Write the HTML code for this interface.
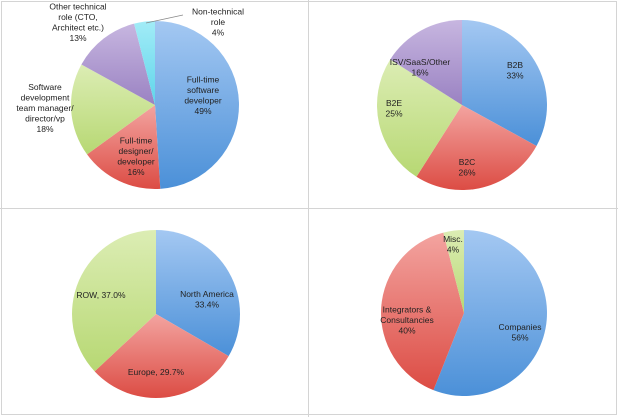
<!DOCTYPE html>
<html><head><meta charset="utf-8"><style>
html,body{margin:0;padding:0;background:#fff;}
svg{display:block;font-family:"Liberation Sans",sans-serif;}
text{font-size:8.5px;fill:#222;text-anchor:middle;}
</style></head><body>
<svg id="s" width="618" height="417">
<defs>
<linearGradient id="gb" x1="0" y1="0" x2="0" y2="1"><stop offset="0" stop-color="#a4c8f2"/><stop offset="1" stop-color="#4b90d8"/></linearGradient>
<linearGradient id="gr" x1="0" y1="0" x2="0" y2="1"><stop offset="0" stop-color="#f3a4a0"/><stop offset="1" stop-color="#dc4c44"/></linearGradient>
<linearGradient id="gg" x1="0" y1="0" x2="0" y2="1"><stop offset="0" stop-color="#dcedb4"/><stop offset="1" stop-color="#b7d873"/></linearGradient>
<linearGradient id="gp" x1="0" y1="0" x2="0" y2="1"><stop offset="0" stop-color="#c7b6e0"/><stop offset="1" stop-color="#9a82c2"/></linearGradient>
<linearGradient id="gc" x1="0" y1="0" x2="0" y2="1"><stop offset="0" stop-color="#a2ecf7"/><stop offset="1" stop-color="#5fd5ea"/></linearGradient>
</defs>
<rect x="1.5" y="1.5" width="615" height="413" fill="none" stroke="#d4d4d4"/>
<line x1="308.5" y1="0" x2="308.5" y2="417" stroke="#d4d4d4"/>
<line x1="0" y1="208.5" x2="618" y2="208.5" stroke="#d4d4d4"/>
</svg>
<script>
// Chart 1: roles
const roleValues = [49, 16, 18, 13, 4];
const roleLabels = [["Full-time","software","developer","49%"],["Full-time","designer/","developer","16%"],["Software","development","team manager/","director/vp","18%"],["Other technical","role (CTO,","Architect etc.)","13%"],["Non-technical","role","4%"]];
// Chart 2: market
const marketValues = [33, 26, 25, 16];
const marketLabels = [["B2B","33%"],["B2C","26%"],["B2E","25%"],["ISV/SaaS/Other","16%"]];
// Chart 3: region
const regionValues = [33.4, 29.7, 37.0];
const regionLabels = [["North America","33.4%"],["Europe, 29.7%"],["ROW, 37.0%"]];
// Chart 4: customers
const custValues = [56, 40, 4];
const custLabels = [["Companies","56%"],["Integrators &","Consultancies","40%"],["Misc.","4%"]];

const NS="http://www.w3.org/2000/svg";
const svg=document.getElementById('s');
function pie(name,cx,cy,r,values,labels,fills,labelPos){
  const g=document.createElementNS(NS,'g');
  
  
  svg.appendChild(g);
  const total=values.reduce((a,b)=>a+b,0);
  let a0=0;
  values.forEach((v,i)=>{
    const a1=a0+v/total*2*Math.PI;
    const x0=cx+r*Math.sin(a0),y0=cy-r*Math.cos(a0);
    const x1=cx+r*Math.sin(a1),y1=cy-r*Math.cos(a1);
    const p=document.createElementNS(NS,'path');
    p.setAttribute('d',`M${cx},${cy}L${x0},${y0}A${r},${r} 0 ${a1-a0>Math.PI?1:0} 1 ${x1},${y1}Z`);
    p.setAttribute('fill',fills[i]);
    
    
    g.appendChild(p);
    const lp=labelPos[i];
    let lx,ly;
    if(lp.abs){lx=lp.x;ly=lp.y;}else{const m=(a0+a1)/2;lx=cx+lp.f*r*Math.sin(m);ly=cy-lp.f*r*Math.cos(m);}
    const lines=labels[i];
    const t=document.createElementNS(NS,'text');
    
    
    lines.forEach((s,k)=>{
      const ts=document.createElementNS(NS,'tspan');
      ts.setAttribute('x',lx);
      ts.setAttribute('y',ly+(k-(lines.length-1)/2)*10.5+3);
      ts.textContent=s;t.appendChild(ts);
    });
    g.appendChild(t);
    a0=a1;
  });
  return g;
}
const B='url(#gb)',R='url(#gr)',G='url(#gg)',P='url(#gp)',C='url(#gc)';
pie('roles-pie',155,105,84,roleValues,roleLabels,[B,R,G,P,C],
 [{abs:1,x:203,y:95},{abs:1,x:136,y:156},{abs:1,x:45,y:108},{abs:1,x:78,y:22},{abs:1,x:218,y:22}]);
const ln=document.createElementNS(NS,'line');
ln.setAttribute('x1',146);ln.setAttribute('y1',23);ln.setAttribute('x2',183);ln.setAttribute('y2',15);
ln.setAttribute('stroke','#888');ln.setAttribute('stroke-width','0.8');


svg.appendChild(ln);
pie('market-pie',462,105,85,marketValues,marketLabels,[B,R,G,P],
 [{abs:1,x:515,y:70},{abs:1,x:467,y:167},{abs:1,x:394,y:108},{abs:1,x:420,y:67}]);
pie('region-pie',156,314,84,regionValues,regionLabels,[B,R,G],
 [{abs:1,x:207,y:299},{abs:1,x:156,y:372},{abs:1,x:101,y:295}]);
pie('customers-pie',464,313,83,custValues,custLabels,[B,R,G],
 [{abs:1,x:520,y:332},{abs:1,x:407,y:320},{abs:1,x:453,y:244}]);
</script>
</body></html>
